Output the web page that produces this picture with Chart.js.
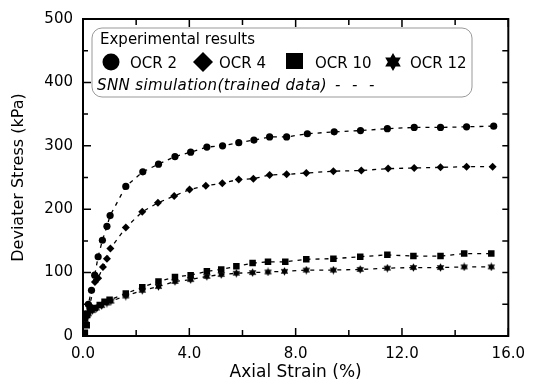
<!DOCTYPE html>
<html>
<head>
<meta charset="utf-8">
<script src="https://cdn.jsdelivr.net/npm/chart.js@4.4.0/dist/chart.umd.min.js"></script>
<style>
  html, body { margin: 0; padding: 0; background: #fff; }
</style>
</head>
<body>
<canvas id="stressChart" width="534" height="385"></canvas>
<script>
// axial strain (%) and deviater stress (kPa)
const strainOcr2 = [0, 0.1, 0.2, 0.32, 0.44, 0.57, 0.73, 0.9, 1.02, 1.61, 2.25, 2.84, 3.46, 4.05, 4.66, 5.25, 5.86, 6.43, 7.02, 7.66, 8.44, 9.45, 10.44, 11.45, 12.46, 13.45, 14.43, 15.45];
const stressOcr2 = [0, 35, 50, 72, 96, 125, 151, 173, 190, 236, 259, 271, 283, 290, 298, 300, 305, 309, 314, 314, 319, 322, 324, 327, 329, 329, 330, 331];

const strainOcr4 = [0, 0.1, 0.25, 0.45, 0.57, 0.75, 0.9, 1.03, 1.61, 2.23, 2.82, 3.43, 4.01, 4.62, 5.24, 5.86, 6.41, 7.02, 7.66, 8.4, 9.42, 10.47, 11.48, 12.46, 13.45, 14.43, 15.41];
const stressOcr4 = [0, 30, 48, 85, 91, 109, 122, 138, 171, 196, 210, 221, 231, 237, 241, 247, 248, 254, 255, 257, 260, 261, 264, 265, 266, 267, 267];

const strainOcr10 = [0, 0.07, 0.14, 0.16, 0.26, 0.44, 0.63, 0.81, 1.0, 1.61, 2.23, 2.84, 3.46, 4.05, 4.66, 5.2, 5.77, 6.38, 6.96, 7.61, 8.4, 9.42, 10.43, 11.45, 12.43, 13.45, 14.34, 15.36];
const stressOcr10 = [0, 5, 17, 33, 41, 44, 49, 54, 57, 67, 77, 86, 93, 96, 102, 105, 110, 115, 117, 117, 121, 122, 125, 128, 126, 126, 130, 130];

const strainOcr12 = [0, 0.1, 0.2, 0.35, 0.5, 0.7, 0.9, 1.05, 1.61, 2.23, 2.84, 3.46, 4.05, 4.66, 5.2, 5.77, 6.38, 6.96, 7.58, 8.4, 9.42, 10.43, 11.45, 12.43, 13.45, 14.34, 15.36];
const stressOcr12 = [0, 25, 35, 40, 44, 48, 52, 55, 63, 72, 78, 86, 89, 94, 97, 99, 100, 101, 102, 104, 104, 105, 107, 108, 108, 109, 109];

const seriesNames = ["OCR 2", "OCR 4", "OCR 10", "OCR 12"];
const xTicks = [0, 4, 8, 12, 16];
const yTicks = [0, 100, 200, 300, 400, 500];

const FONT = "'DejaVu Sans', sans-serif";

function pairs(xs, ys) {
  return xs.map((x, i) => ({ x: x, y: ys[i] }));
}

// six pointed star used for OCR 12
function drawHexagram(c, x, y, r) {
  c.beginPath();
  for (let t = 0; t < 2; t++) {
    for (let k = 0; k < 3; k++) {
      const ang = (t === 0 ? -90 : 90) + k * 120;
      const px = x + r * Math.cos(ang * Math.PI / 180);
      const py = y + r * Math.sin(ang * Math.PI / 180);
      if (k === 0) c.moveTo(px, py); else c.lineTo(px, py);
    }
    c.closePath();
  }
  c.fill();
}

const starImg = document.createElement("canvas");
starImg.width = 9;
starImg.height = 9;
const sctx = starImg.getContext("2d");
sctx.fillStyle = "#000";
drawHexagram(sctx, 4.5, 4.5, 4.3);

function lineSet(label, xs, ys, style, radius) {
  return {
    label: label,
    data: pairs(xs, ys),
    showLine: true,
    borderColor: "#000",
    borderWidth: 1.3,
    borderDash: [4, 5],
    backgroundColor: "#000",
    pointBackgroundColor: "#000",
    pointBorderColor: "#000",
    pointBorderWidth: 0,
    pointStyle: style,
    pointRadius: radius,
    tension: 0,
  };
}

const frameTicks = {
  id: "frameTicks",
  afterDraw(chart) {
    const c = chart.ctx;
    const a = chart.chartArea;
    const xs = chart.scales.x;
    const ys = chart.scales.y;
    c.save();
    c.strokeStyle = "#000";
    c.lineWidth = 2;
    c.strokeRect(a.left, a.top, a.right - a.left, a.bottom - a.top);
    c.lineWidth = 1.5;
    c.beginPath();
    for (let v = 0; v <= 16; v += 2) {
      const px = xs.getPixelForValue(v);
      const len = v % 4 === 0 ? 8 : 6;
      c.moveTo(px, a.bottom); c.lineTo(px, a.bottom - len);
      c.moveTo(px, a.top); c.lineTo(px, a.top + len);
    }
    for (let v = 0; v <= 500; v += 50) {
      const py = ys.getPixelForValue(v);
      const len = v % 100 === 0 ? 8 : 5;
      c.moveTo(a.left, py); c.lineTo(a.left + len, py);
      c.moveTo(a.right, py); c.lineTo(a.right - 6, py);
    }
    c.stroke();
    c.restore();
  }
};

const legendBox = {
  id: "legendBox",
  afterDraw(chart) {
    const c = chart.ctx;
    c.save();
    c.strokeStyle = "#999";
    c.lineWidth = 1;
    c.beginPath();
    c.roundRect(92, 28, 380, 69, 10);
    c.stroke();

    c.fillStyle = "#000";
    c.textBaseline = "alphabetic";
    c.font = "15px " + FONT;
    c.fillText("Experimental results", 100, 44);

    // markers row
    c.beginPath();
    c.arc(111, 62, 8.5, 0, Math.PI * 2);
    c.fill();
    c.beginPath();
    c.moveTo(203, 52); c.lineTo(213, 62); c.lineTo(203, 72); c.lineTo(193, 62);
    c.closePath();
    c.fill();
    c.fillRect(286, 53, 17, 16);
    drawHexagram(c, 393, 62, 9);

    c.fillText(seriesNames[0], 130, 68);
    c.fillText(seriesNames[1], 219, 68);
    c.fillText(seriesNames[2], 315, 68);
    c.fillText(seriesNames[3], 410, 68);

    c.font = "italic 15px " + FONT;
    c.letterSpacing = "0.4px";
    c.fillText("SNN simulation(trained data)", 97, 90);
    c.fillText("-", 335, 90);
    c.fillText("-", 352, 90);
    c.fillText("-", 369, 90);
    c.restore();
  }
};

const ctx = document.getElementById("stressChart");

const myChart = new Chart(ctx, {
  type: "scatter",
  data: {
    datasets: [
      lineSet(seriesNames[0], strainOcr2, stressOcr2, "circle", 3.6),
      lineSet(seriesNames[1], strainOcr4, stressOcr4, "rectRot", 4),
      lineSet(seriesNames[2], strainOcr10, stressOcr10, "rect", 4.6),
      lineSet(seriesNames[3], strainOcr12, stressOcr12, starImg, 4.5),
    ],
  },
  options: {
    responsive: false,
    animation: false,
    events: [],
    layout: { padding: { top: 19, right: 17, left: 0, bottom: 0 } },
    plugins: {
      legend: { display: false },
      tooltip: { enabled: false },
    },
    scales: {
      x: {
        type: "linear",
        min: 0,
        max: 16,
        afterBuildTicks(s) { s.ticks = xTicks.map(v => ({ value: v })); },
        afterFit(s) { s.height = 49; },
        grid: { display: false, drawTicks: false },
        border: { display: false },
        ticks: {
          color: "#000",
          padding: 9,
          font: { family: FONT, size: 15 },
          callback: v => v.toFixed(1),
        },
        title: {
          display: true,
          text: "Axial Strain (%)",
          color: "#000",
          font: { family: FONT, size: 17 },
          padding: { top: 0, bottom: 2 },
        },
      },
      y: {
        type: "linear",
        min: 0,
        max: 500,
        afterBuildTicks(s) { s.ticks = yTicks.map(v => ({ value: v })); },
        afterFit(s) { s.width = 83; },
        grid: { display: false, drawTicks: false },
        border: { display: false },
        ticks: {
          color: "#000",
          padding: 10,
          font: { family: FONT, size: 15 },
        },
        title: {
          display: true,
          text: "Deviater Stress (kPa)",
          color: "#000",
          font: { family: FONT, size: 16 },
          padding: { top: 9, bottom: 0 },
        },
      },
    },
  },
  plugins: [frameTicks, legendBox],
});
</script>
</body>
</html>
